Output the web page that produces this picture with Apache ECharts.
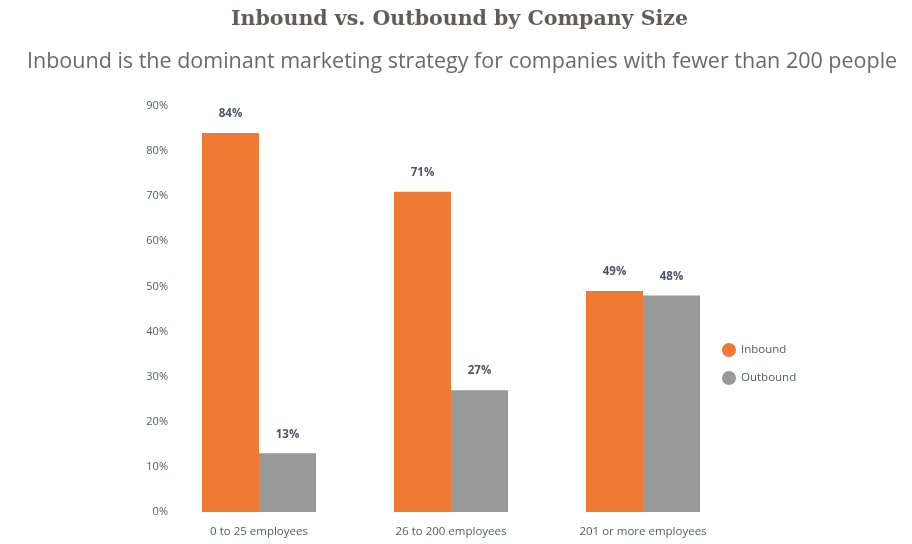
<!DOCTYPE html>
<html><head><meta charset="utf-8">
<script src="https://cdn.jsdelivr.net/npm/echarts@6/dist/echarts.min.js"></script>
<style>html,body{margin:0;padding:0;background:#fff}#c{width:912px;height:544px}</style>
</head><body><div id="c"></div>
<script>
const categories = ['0 to 25 employees', '26 to 200 employees', '201 or more employees'];
const inbound = [84, 71, 49];
const outbound = [13, 27, 48];
const seriesNames = ['Inbound', 'Outbound'];

const chart = echarts.init(document.getElementById('c'));
const labelStyle = {show: true, position: 'top', distance: 13, formatter: '{c}%', color: '#4f5661', fontSize: 11.5, fontWeight: 'bold', fontFamily: 'Open Sans'};
chart.setOption({
  animation: false,
  title: [
    {text: 'Inbound vs. Outbound by Company Size', left: 226, top: 4, textStyle: {fontFamily: 'DejaVu Serif', fontWeight: 'bold', fontSize: 20.5, color: '#625c5c'}},
    {text: 'Inbound is the dominant marketing strategy for companies with fewer than 200 people', left: 22, top: 46, textStyle: {fontFamily: 'Open Sans', fontWeight: 'normal', fontSize: 21.5, color: '#6a6a6a'}}
  ],
  legend: {orient: 'vertical', left: 717, top: 338, icon: 'circle', itemWidth: 14, itemHeight: 14, itemGap: 14, textStyle: {fontFamily: 'Open Sans', fontSize: 11.5, color: '#555c66'}, data: seriesNames},
  grid: {left: 163, right: 173, top: 106, bottom: 32},
  xAxis: {type: 'category', data: categories, axisLine: {show: false}, axisTick: {show: false}, axisLabel: {margin: 14, fontFamily: 'Open Sans', fontSize: 11.5, color: '#555c66'}},
  yAxis: {type: 'value', min: 0, max: 90, interval: 10, splitLine: {show: false}, axisLabel: {formatter: '{value}%', margin: -5, fontFamily: 'Open Sans', fontSize: 11, color: '#555c66'}},
  series: [
    {name: seriesNames[0], type: 'bar', data: inbound, barWidth: 57, barGap: '0%', itemStyle: {color: '#f07933'}, label: labelStyle},
    {name: seriesNames[1], type: 'bar', data: outbound, barWidth: 57, barGap: '0%', itemStyle: {color: '#999999'}, label: labelStyle}
  ]
});
</script></body></html>
